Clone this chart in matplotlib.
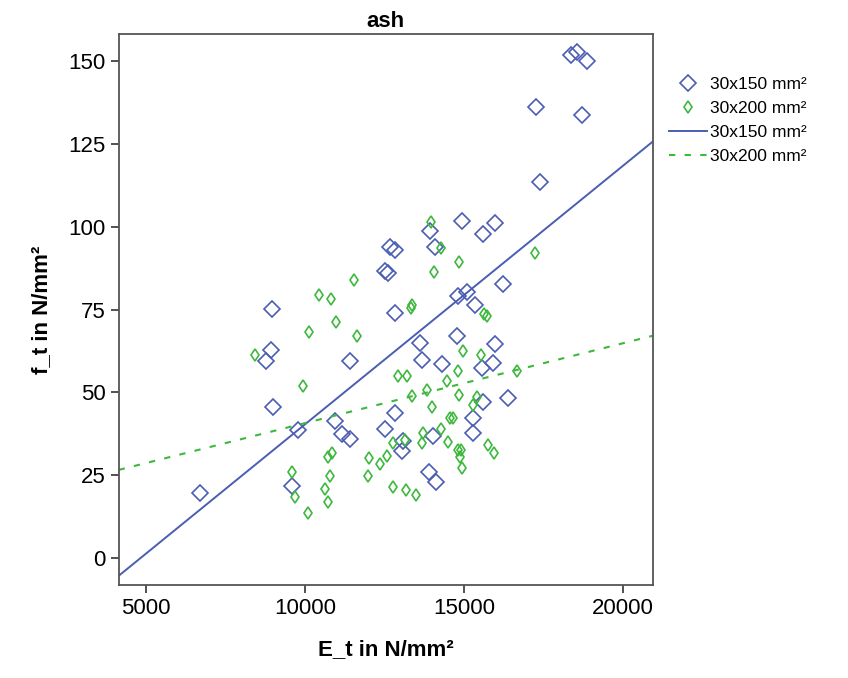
import numpy as np
import matplotlib.pyplot as plt

# 30x150 mm² specimens (E_t, f_t)
e150 = [6700, 8770, 8930, 8960, 8990, 9590, 9800, 10950, 11180, 11420,
        11420, 12520, 12520, 12630, 12670, 12830, 12830, 12830, 13060, 13100,
        13620, 13680, 13900, 13950, 14040, 14090, 14120, 14310, 14780, 14830,
        14940, 15100, 15280, 15300, 15340, 15570, 15590, 15600, 15910, 15990,
        15980, 16230, 16390, 17270, 17390, 18370, 18560, 18710, 18870]
f150 = [19.6, 59.6, 62.8, 75.2, 45.5, 21.7, 38.6, 41.3, 37.6, 36.0,
        59.5, 38.9, 86.6, 86.0, 93.9, 93.0, 74.0, 43.8, 32.2, 35.3,
        64.8, 59.8, 26.0, 98.6, 37.0, 93.8, 23.0, 58.5, 67.0, 79.0,
        101.8, 80.3, 42.4, 37.7, 76.4, 57.3, 97.9, 47.1, 58.9, 64.6,
        101.0, 82.6, 48.3, 136.1, 113.5, 151.8, 152.7, 133.7, 150.0]

# 30x200 mm² specimens
e200 = [8430, 9590, 9690, 9940, 10100, 10130, 10440, 10630, 10720, 10720,
        10790, 10820, 10850, 10980, 11540, 11640, 11980, 12030, 12360, 12580,
        12770, 12770, 12920, 13150, 13180, 13200, 13340, 13370, 13370, 13490,
        13680, 13710, 13840, 13960, 13990, 14060, 14280, 14280, 14470, 14500,
        14560, 14650, 14810, 14810, 14840, 14840, 14880, 14910, 14940, 14970,
        15280, 15400, 15540, 15630, 15720, 15760, 15950, 16670, 17230]
f200 = [61.3, 26.0, 18.4, 51.9, 13.6, 68.2, 79.4, 20.8, 30.5, 16.9,
        24.8, 78.2, 31.7, 71.2, 83.9, 67.0, 24.8, 30.2, 28.5, 30.8,
        34.7, 21.4, 55.0, 35.8, 20.5, 55.0, 75.5, 76.4, 49.0, 19.0,
        34.7, 37.7, 50.7, 101.3, 45.6, 86.4, 93.6, 38.9, 53.5, 35.0,
        42.3, 42.3, 56.6, 32.6, 89.4, 49.2, 30.5, 32.6, 27.2, 62.5,
        46.2, 48.6, 61.3, 73.6, 73.0, 34.1, 31.7, 56.6, 92.1]

labels = ['30x150 mm²', '30x200 mm²']
blue = '#4a5db3'
green = '#3db83d'

plt.rcParams['font.family'] = ['Liberation Sans', 'DejaVu Sans']

fig = plt.figure(figsize=(8.48, 6.78), dpi=100)
ax = fig.add_axes([0.140, 0.137, 0.630, 0.813])

ax.plot(e150, f150, linestyle='none', marker='D', ms=8.5, mfc='none',
        mec=blue, mew=1.2, label=labels[0])
ax.plot(e200, f200, linestyle='none', marker='d', ms=6.5, mfc='none',
        mec=green, mew=1.2, label=labels[1])

ax.set_xlim(4150, 20943)
ax.set_ylim(-8.1, 158.1)

# linear fits
xs = np.array(ax.get_xlim())
k1, d1 = np.polyfit(e150, f150, 1)
k2, d2 = np.polyfit(e200, f200, 1)
ax.plot(xs, k1 * xs + d1, color=blue, lw=1.4, label=labels[0])
ax.plot(xs, k2 * xs + d2, color=green, lw=1.5, ls=(0, (3, 4.5)), label=labels[1])

ax.set_xticks([5000, 10000, 15000, 20000])
ax.set_yticks([0, 25, 50, 75, 100, 125, 150])
ax.tick_params(labelsize=16, length=6, width=1.2, color='#333333')
for s in ax.spines.values():
    s.set_color('#555555')
    s.set_linewidth(1.3)

ax.set_title('ash', fontsize=16, fontweight='bold', pad=5)
ax.set_xlabel('E_t in N/mm²', fontsize=16, fontweight='bold', labelpad=14)
ax.set_ylabel('f_t in N/mm²', fontsize=16, fontweight='bold', labelpad=12)

ax.legend(loc='upper left', bbox_to_anchor=(1.0, 0.95), frameon=False,
          fontsize=12.5, handlelength=2.2, handletextpad=0.2, labelspacing=0.5,
          borderaxespad=0.5)

fig.savefig('out.png', dpi=100)
